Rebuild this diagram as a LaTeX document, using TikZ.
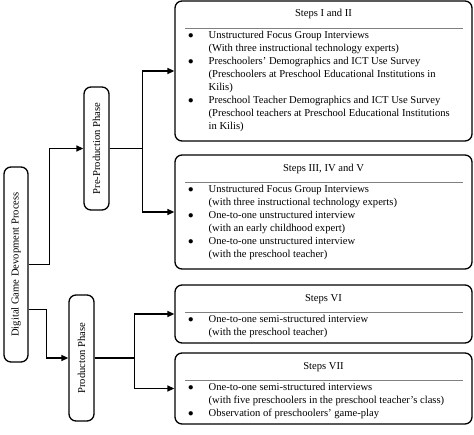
\documentclass[tikz,border=0pt]{standalone}
\usepackage{fontspec}
\setmainfont{Liberation Serif}
\usepackage{tikz}
\usetikzlibrary{calc, positioning, arrows.meta}

\begin{document}
\begin{tikzpicture}[x=1pt, y=-1pt,
    every node/.style={font=\fontsize{10.6}{13}\selectfont, inner sep=0pt},
    frame/.style={draw, line width=1.3pt, rounded corners=7pt},
    conn/.style={line width=1.3pt, -{Triangle[length=7pt, width=6pt]}},
    rule/.style={draw=gray, line width=0.7pt}]
    \useasboundingbox (0,0) rectangle (474,434);

    % 左侧的三个竖向方框 (文字旋转 90 度)
    \node[frame, minimum width=24pt, minimum height=195pt] (proc) at (16,264.5) {};
    \node[rotate=90] (proc-t) at (proc) {Digital Game Devopment Process};
    \node[frame, minimum width=25pt, minimum height=123pt] (pre) at (96.5,148.5) {};
    \node[rotate=90] (pre-t) at (pre) {Pre-Production Phase};
    \node[frame, minimum width=25pt, minimum height=126pt] (prod) at (81.5,358) {};
    \node[rotate=90] (prod-t) at (prod) {Producton Phase};

    % 右侧的四个步骤方框
    \node[frame, minimum width=297pt, minimum height=140pt] (s1) at (323.5,71) {};
    \node[frame, minimum width=297pt, minimum height=114pt] (s2) at (323.5,212) {};
    \node[frame, minimum width=297pt, minimum height=58pt] (s3) at (323.5,314) {};
    \node[frame, minimum width=297pt, minimum height=71pt] (s4) at (323.5,388.5) {};

    % 方框标题与分隔线
    \node (s1-h) at (323.5,14) {Steps I and II};
    \draw[rule] (185,28) -- (463,28);
    \node (s2-h) at (323.5,169) {Steps III, IV and V};
    \draw[rule] (185,182) -- (463,182);
    \node (s3-h) at (323.5,299) {Steps VI};
    \draw[rule] (185,312) -- (463,312);
    \node (s4-h) at (323.5,367) {Steps VII};
    \draw[rule] (185,380) -- (463,380);

    % 方框内的条目
    \node[anchor=north west] (s1-b) at (185,29.5) {\begin{tabular}{@{\hspace{3pt}}l@{\hspace{15pt}}l@{}}
        $\bullet$ & Unstructured Focus Group Interviews\\
                  & (With three instructional technology experts)\\
        $\bullet$ & Preschoolers' Demographics and ICT Use Survey\\
                  & (Preschoolers at Preschool Educational Institutions in\\
                  & Kilis)\\
        $\bullet$ & Preschool Teacher Demographics and ICT Use Survey\\
                  & (Preschool teachers at Preschool Educational Institutions\\
                  & in Kilis)
    \end{tabular}};
    \node[anchor=north west] (s2-b) at (185,183.5) {\begin{tabular}{@{\hspace{3pt}}l@{\hspace{15pt}}l@{}}
        $\bullet$ & Unstructured Focus Group Interviews\\
                  & (with three instructional technology experts)\\
        $\bullet$ & One-to-one unstructured interview\\
                  & (with an early childhood expert)\\
        $\bullet$ & One-to-one unstructured interview\\
                  & (with the preschool teacher)
    \end{tabular}};
    \node[anchor=north west] (s3-b) at (185,313.5) {\begin{tabular}{@{\hspace{3pt}}l@{\hspace{15pt}}l@{}}
        $\bullet$ & One-to-one semi-structured interview\\
                  & (with the preschool teacher)
    \end{tabular}};
    \node[anchor=north west] (s4-b) at (185,381) {\begin{tabular}{@{\hspace{3pt}}l@{\hspace{15pt}}l@{}}
        $\bullet$ & One-to-one semi-structured interviews\\
                  & (with five preschoolers in the preschool teacher's class)\\
        $\bullet$ & Observation of preschoolers' game-play
    \end{tabular}};

    % 连接箭头
    \draw[conn] (proc.east) -- ++(21,0) |- (pre.west);
    \draw[conn] ([yshift=-45pt]proc.east) -- ++(18,0) |- (prod.west);
    \draw[conn] (pre.east) -- ++(33,0) |- (s1.west);
    \draw[conn] (pre.east) -- ++(33,0) |- (s2.west);
    \draw[conn] (prod.east) -- ++(40,0) |- (s3.west);
    \draw[conn] (prod.east) -- ++(40,0) |- (s4.west);
\end{tikzpicture}
\end{document}
